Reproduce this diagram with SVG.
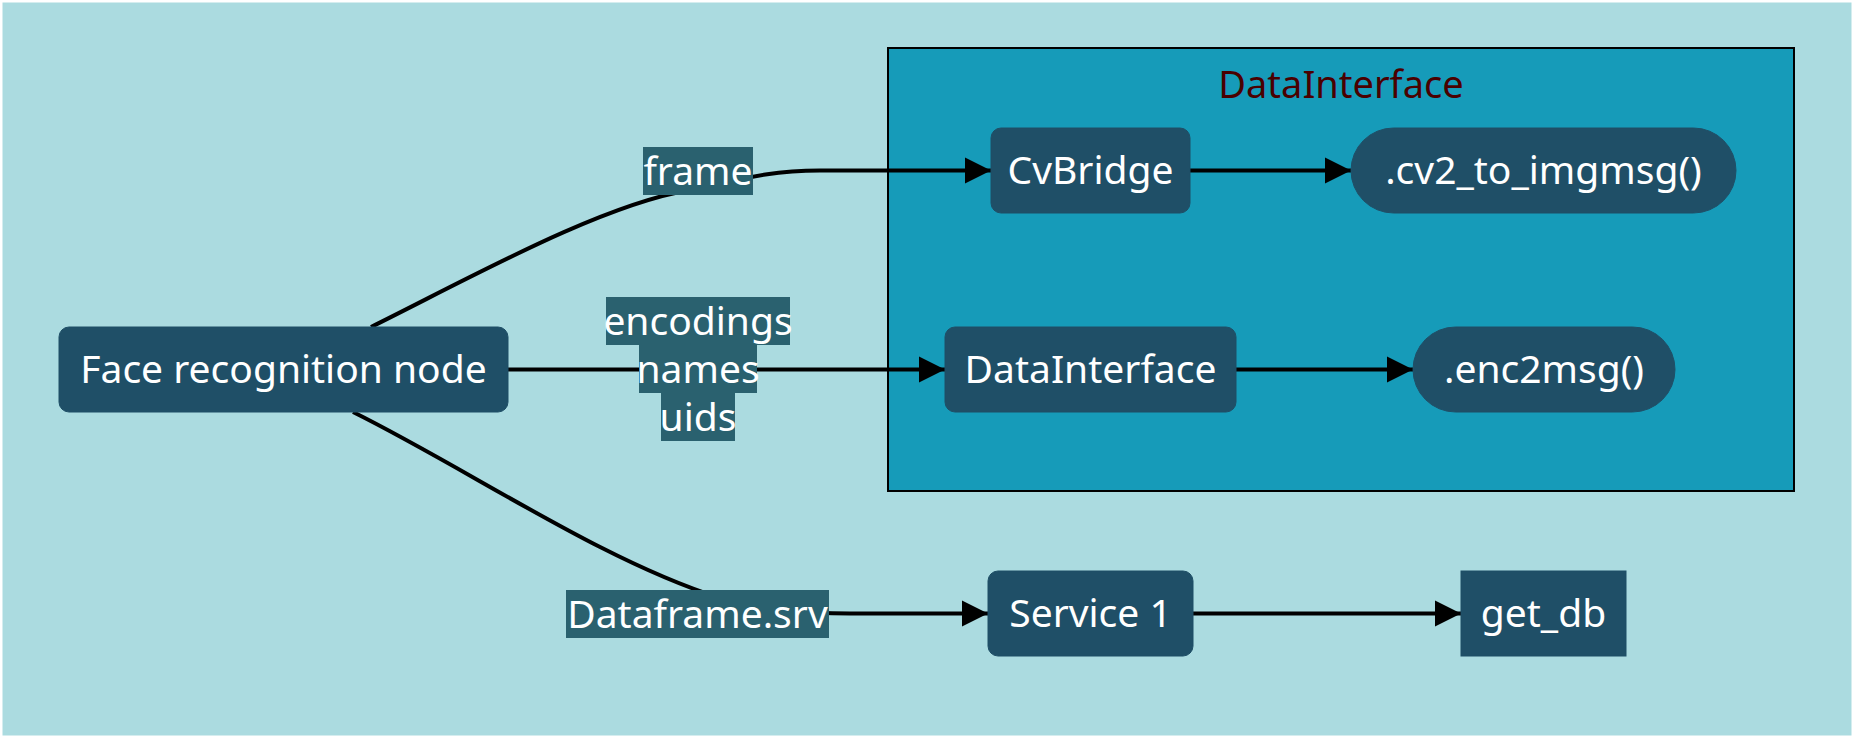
<svg xmlns="http://www.w3.org/2000/svg" width="1855" height="738" viewBox="0 0 1855 738">
<defs>
<style>
.bg{fill:#ABDBE0;}
.cluster{fill:#169BB9;stroke:#000;stroke-width:2;}
.ctitle{fill:#4A0000;font-family:"Noto Sans","Open Sans",sans-serif;font-size:38px;text-anchor:middle;}
.node{fill:#1F4F67;stroke:#1F4F67;stroke-width:1;}
.ntext{fill:#fff;font-family:"Noto Sans","Open Sans",sans-serif;font-size:39px;text-anchor:middle;}
.lbl{fill:#2A616F;}
.edge{fill:none;stroke:#000;stroke-width:4;}
</style>
<marker id="arrow" viewBox="0 0 10 10" refX="10" refY="5" markerUnits="userSpaceOnUse" markerWidth="26" markerHeight="28" orient="auto">
<path d="M0,0 L10,5 L0,10 Z" fill="#000"/>
</marker>
</defs>
<rect x="0" y="0" width="1855" height="738" fill="#FFFFFF"/>
<rect class="bg" x="2.5" y="2.5" width="1849" height="733"/>
<g id="cluster-DataInterface">
<rect class="cluster" x="888" y="48" width="906" height="443"/>
<text class="ctitle" x="1341" y="98">DataInterface</text>
</g>
<g id="connectors">
<path class="edge" d="M371,327 C470,278 600,205 690,190 C730,183 760,170.5 820,170.5 L991,170.5" marker-end="url(#arrow)"/>
<path class="edge" d="M508,369.5 L945,369.5" marker-end="url(#arrow)"/>
<path class="edge" d="M353,412 C470,470 600,560 720,598 C770,608 790,613.5 850,613.5 L988,613.5" marker-end="url(#arrow)"/>
<path class="edge" d="M1190,170.5 L1351,170.5" marker-end="url(#arrow)"/>
<path class="edge" d="M1236,369.5 L1413,369.5" marker-end="url(#arrow)"/>
<path class="edge" d="M1193,613.5 L1461,613.5" marker-end="url(#arrow)"/>
</g>
<g id="edge-labels">
<g id="label-frame">
<rect class="lbl" x="643" y="147" width="110" height="48"/>
<text class="ntext" x="698" y="185">frame</text>
</g>
<g id="label-encodings">
<rect class="lbl" x="606" y="297" width="184" height="48"/>
<rect class="lbl" x="639" y="345" width="118" height="48"/>
<rect class="lbl" x="661" y="393" width="74" height="48"/>
<text class="ntext" x="698" y="335">encodings</text>
<text class="ntext" x="698" y="383">names</text>
<text class="ntext" x="698" y="431">uids</text>
</g>
<g id="label-dataframe">
<rect class="lbl" x="566" y="590" width="263" height="48"/>
<text class="ntext" x="697.5" y="628">Dataframe.srv</text>
</g>
</g>
<g id="node-face">
<rect class="node" x="59" y="327" width="449" height="85" rx="10"/>
<text class="ntext" x="283.5" y="383">Face recognition node</text>
</g>
<g id="node-cvbridge">
<rect class="node" x="991" y="128" width="199" height="85" rx="10"/>
<text class="ntext" x="1090.5" y="184">CvBridge</text>
</g>
<g id="node-cv2">
<rect class="node" x="1351" y="128" width="385" height="85" rx="42.5"/>
<text class="ntext" x="1543.5" y="184">.cv2_to_imgmsg()</text>
</g>
<g id="node-datainterface">
<rect class="node" x="945" y="327" width="291" height="85" rx="10"/>
<text class="ntext" x="1090.5" y="383">DataInterface</text>
</g>
<g id="node-enc2msg">
<rect class="node" x="1413" y="327" width="262" height="85" rx="42.5"/>
<text class="ntext" x="1544" y="383">.enc2msg()</text>
</g>
<g id="node-service1">
<rect class="node" x="988" y="571" width="205" height="85" rx="10"/>
<text class="ntext" x="1090.5" y="627">Service 1</text>
</g>
<g id="node-getdb">
<rect class="node" x="1461" y="571" width="165" height="85"/>
<text class="ntext" x="1543.5" y="627">get_db</text>
</g>
</svg>
